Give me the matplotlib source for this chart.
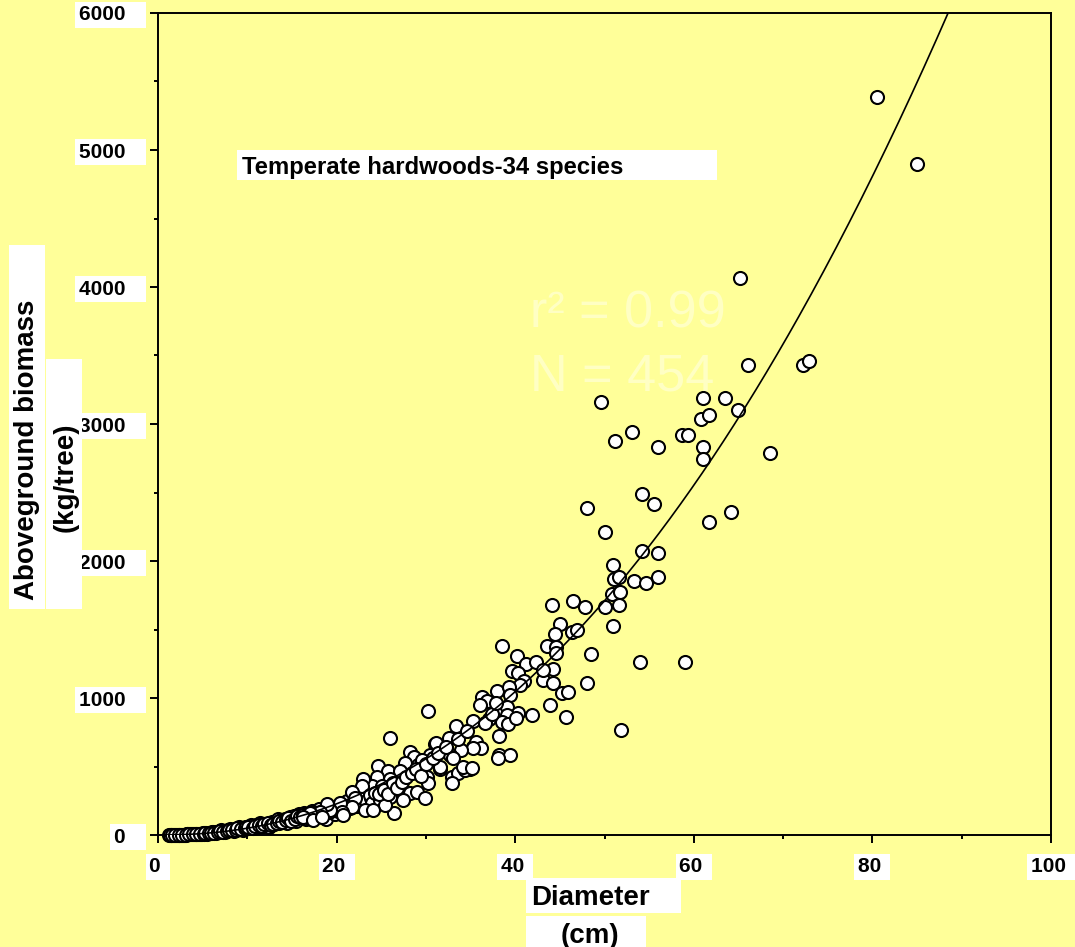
import numpy as np
import matplotlib
matplotlib.use("Agg")
import matplotlib.pyplot as plt
from matplotlib.patches import Rectangle

plt.rcParams['font.family'] = ['Liberation Sans', 'DejaVu Sans']
plt.rcParams['font.weight'] = 'bold'

# --- data (diameter cm, biomass kg/tree) ---
d_small = [1.2, 1.4, 1.5, 1.7, 1.8, 2.0, 2.1, 2.2, 2.4, 2.5, 2.6, 2.8, 2.9, 3.0, 3.2, 3.3,
           3.4, 3.6, 3.7, 3.8, 4.0, 4.1, 4.2, 4.4, 4.5, 4.6, 4.8, 4.9, 5.0, 5.2, 5.4, 5.5,
           5.6, 5.8, 6.0, 6.1, 6.2, 6.4, 6.5, 6.6, 6.8, 7.0, 7.1, 7.2, 7.4, 7.5, 7.6, 7.8,
           8.0, 8.1, 8.2, 8.4, 8.5, 8.6, 8.8, 9.0, 9.1, 9.2, 9.4, 9.5, 9.6, 9.8, 10.0, 10.2,
           10.4, 10.5, 10.8, 11.0, 11.2, 11.4, 11.5, 11.8, 12.0, 12.2, 12.4, 12.5, 12.8, 13.0,
           13.2, 13.4, 13.5, 13.8, 14.0, 14.2, 14.4, 14.5, 14.8, 15.0, 15.2, 15.4, 15.5, 15.8,
           16.0, 16.4, 16.6, 16.8, 17.2, 17.6, 18.0, 18.5, 18.8, 19.0, 19.5, 19.8, 20.0, 20.2,
           20.8, 21.2, 21.5, 22.0, 22.5, 23.0, 23.5,
           1.3, 1.6, 1.9, 2.3, 2.7, 3.1, 3.5, 3.9, 4.3, 4.7, 5.1, 5.3, 5.7, 5.9, 6.3, 6.7,
           6.9, 7.3, 7.7, 7.9, 8.3, 8.7, 8.9, 9.3, 9.7, 9.9, 10.1, 10.6, 10.9, 11.3, 11.6, 11.9,
           12.3, 12.6, 12.9, 13.3, 13.6, 13.9, 14.3, 14.6, 14.9, 15.3, 15.6, 15.9, 16.2, 16.7,
           17.0, 17.4, 17.8, 18.2, 18.6, 19.2, 19.6, 20.4, 21.0, 21.8, 22.3, 22.8, 23.3, 23.8]
b_small = [0, 0, 1, 1, 1, 1, 1, 2, 2, 2, 2, 3, 3, 3, 4, 4,
           4, 5, 5, 5, 6, 7, 7, 8, 8, 9, 10, 10, 11, 12, 14, 10,
           15, 16, 18, 25, 20, 21, 16, 22, 24, 26, 35, 28, 30, 25, 31, 34,
           36, 46, 38, 40, 32, 42, 44, 46, 58, 47, 50, 40, 52, 55, 50, 48,
           75, 60, 55, 70, 60, 85, 75, 68, 80, 70, 62, 85, 95, 80,
           100, 120, 90, 110, 100, 120, 85, 110, 130, 120, 140, 100, 125, 150,
           135, 160, 115, 150, 175, 140, 190, 150, 120, 210, 185, 150, 200, 175,
           220, 250, 195, 240, 265, 230, 300,
           0, 0, 1, 1, 2, 3, 4, 5, 6, 8, 9, 13, 12, 18, 17, 20,
           27, 24, 29, 38, 35, 38, 50, 44, 48, 60, 55, 52, 66, 72, 64, 80,
           88, 72, 78, 90, 105, 95, 110, 125, 105, 118, 140, 128, 145, 130,
           140, 165, 160, 170, 185, 165, 200, 190, 205, 230, 210, 280, 250, 270]

d_mid = [26.0, 31.0, 35.3, 28.2, 28.7, 30.5, 27.7, 29.1, 29.9, 24.6, 25.8, 27.1, 31.6, 32.9,
         33.6, 34.9, 34.4, 32.9, 30.1, 30.2, 24.5, 26.0, 24.0, 23.0, 22.8, 25.1, 27.1, 28.2,
         29.0, 29.9, 26.4, 21.7, 22.1, 23.7, 24.0, 24.9, 26.0, 27.4, 25.4, 21.7, 20.4, 20.6,
         19.3, 23.2, 24.1, 18.9, 18.1, 17.0, 16.2, 17.4, 18.4, 20.7,
         38.5, 40.2, 44.5, 41.2, 42.3, 39.6, 40.3, 41.0, 40.5, 43.1, 38.0, 39.3, 39.4, 36.3,
         36.8, 36.1, 38.1, 39.1, 40.3, 41.9, 39.1, 37.1, 38.5, 39.2, 40.1, 35.3, 33.4, 38.2,
         30.2, 31.1, 32.6, 35.6, 36.2, 35.3, 33.9, 32.7, 38.2, 39.4, 38.1, 30.5, 29.6, 31.6,
         34.2, 35.2,
         24.3, 24.8, 25.3, 25.7, 26.3, 26.8, 27.3, 27.8, 28.4, 28.9, 29.4, 30.0, 30.8, 31.4,
         32.2, 33.0, 33.6, 34.6, 36.6, 37.4, 37.8]
b_mid = [708, 664, 642, 606, 569, 569, 526, 511, 526, 504, 467, 467, 482, 423,
         453, 482, 474, 380, 423, 380, 423, 409, 358, 409, 358, 358, 343, 307,
         314, 270, 161, 314, 270, 292, 234, 255, 277, 255, 219, 204, 234, 168,
         182, 182, 182, 226, 168, 161, 131, 109, 131, 146,
         1380, 1307, 1350, 1248, 1263, 1197, 1182, 1124, 1095, 1131, 1051, 1080, 1022, 1007,
         978, 949, 912, 934, 891, 876, 876, 847, 825, 810, 854, 832, 796, 723,
         905, 672, 708, 679, 635, 635, 620, 584, 584, 584, 562, 584, 547, 496,
         496, 489,
         310, 300, 330, 300, 380, 340, 390, 420, 450, 480, 430, 520, 560, 600,
         640, 560, 700, 760, 820, 880, 960]

d_large = [80.5, 85.0, 65.2, 66.1, 72.2, 72.9, 49.6, 63.5, 61.0, 64.9, 60.8, 61.7, 58.7, 59.4,
           56.0, 61.0, 61.0, 68.5, 54.2, 55.5, 64.2, 61.7, 53.1, 51.2, 48.0, 50.1, 54.2, 56.0,
           51.0, 51.1, 51.6, 53.3, 54.6, 56.0, 50.8, 51.7, 50.1, 51.6, 44.1, 46.5, 47.8, 51.0,
           45.0, 44.5, 46.4, 46.9, 43.6, 44.6, 44.6, 48.5, 54.0, 59.0, 44.2, 43.1, 44.2, 48.0,
           45.2, 45.9, 43.9, 45.7, 51.8]
b_large = [5387, 4898, 4066, 3431, 3431, 3460, 3161, 3190, 3190, 3102, 3036, 3066, 2920, 2920,
           2832, 2832, 2745, 2788, 2489, 2416, 2358, 2285, 2942, 2876, 2387, 2212, 2073, 2058,
           1971, 1869, 1883, 1854, 1839, 1883, 1759, 1774, 1664, 1679, 1679, 1708, 1664, 1526,
           1540, 1467, 1482, 1496, 1380, 1372, 1328, 1321, 1263, 1263, 1212, 1204, 1109, 1109,
           1036, 1044, 949, 861, 766]

# power-law fit shown as the line: biomass = a * D^b
fit_a = 0.3127
fit_b = 2.2

x_ticks = [0, 20, 40, 60, 80, 100]
y_ticks = [0, 1000, 2000, 3000, 4000, 5000, 6000]

W, H = 1075, 947
bg = '#FFFF99'

fig = plt.figure(figsize=(W / 100, H / 100), dpi=100, facecolor=bg)
ax = fig.add_axes([158 / W, 1 - 835 / H, (1051 - 158) / W, (835 - 13) / H])
ax.set_facecolor(bg)

diam = np.concatenate([d_small, d_mid, d_large])
mass = np.concatenate([b_small, b_mid, b_large])
ax.scatter(diam, mass, s=88, facecolor='white', edgecolor='black', linewidth=1.5,
           zorder=3, clip_on=False)

dd = np.linspace(0, 100, 500)
ax.plot(dd, fit_a * dd ** fit_b, color='black', lw=1.2, zorder=4)

ax.set_xlim(0, 100)
ax.set_ylim(0, 6000)
ax.set_xticks(x_ticks)
ax.set_xticks(range(10, 100, 20), minor=True)
ax.set_yticks(y_ticks)
ax.set_yticks(range(500, 6000, 1000), minor=True)
ax.set_xticklabels(['%d ' % v for v in x_ticks])
ax.set_yticklabels(['%d   ' % v for v in y_ticks])
ax.tick_params(which='major', direction='out', length=6, width=1.4, labelsize=15)
ax.tick_params(which='minor', direction='out', length=3, width=1.4)
ax.tick_params(axis='y', pad=5)
ax.tick_params(axis='x', pad=10)
for sp in ax.spines.values():
    sp.set_linewidth(1.4)
for lbl in ax.get_xticklabels() + ax.get_yticklabels():
    lbl.set_bbox(dict(facecolor='white', edgecolor='none', pad=2.5))


def box(x0, y0, x1, y1):
    fig.add_artist(Rectangle((x0 / W, 1 - y1 / H), (x1 - x0) / W, (y1 - y0) / H,
                             transform=fig.transFigure, facecolor='white',
                             edgecolor='none', zorder=1))


def ftext(x, y, s, **kw):
    fig.text(x / W, 1 - y / H, s, zorder=2, **kw)


# axis titles in white boxes
box(526, 878, 681, 913)
ftext(531, 895, 'Diameter', fontsize=20, ha='left', va='center_baseline')
box(526, 916, 646, 950)
ftext(590, 933, '(cm)', fontsize=20, ha='center', va='center_baseline')
box(9, 245, 45, 609)
ftext(27, 450, 'Aboveground biomass', fontsize=20, rotation=90, ha='center', va='center')
box(46, 359, 82, 609)
ftext(66, 477, '(kg/tree)', fontsize=20, rotation=90, ha='center', va='center')

# annotation
box(237, 150, 717, 180)
ftext(242, 165, 'Temperate hardwoods-34 species', fontsize=17.2, ha='left',
      va='center_baseline')

# faint stats text
ftext(530, 327, 'r² = 0.99', fontsize=37.5, color='#FFFFC4', fontweight='normal',
      ha='left', va='baseline')
ftext(530, 390, 'N = 454', fontsize=37.5, color='#FFFFC4', fontweight='normal',
      ha='left', va='baseline')

plt.savefig('out.png', dpi=100, facecolor=bg)
